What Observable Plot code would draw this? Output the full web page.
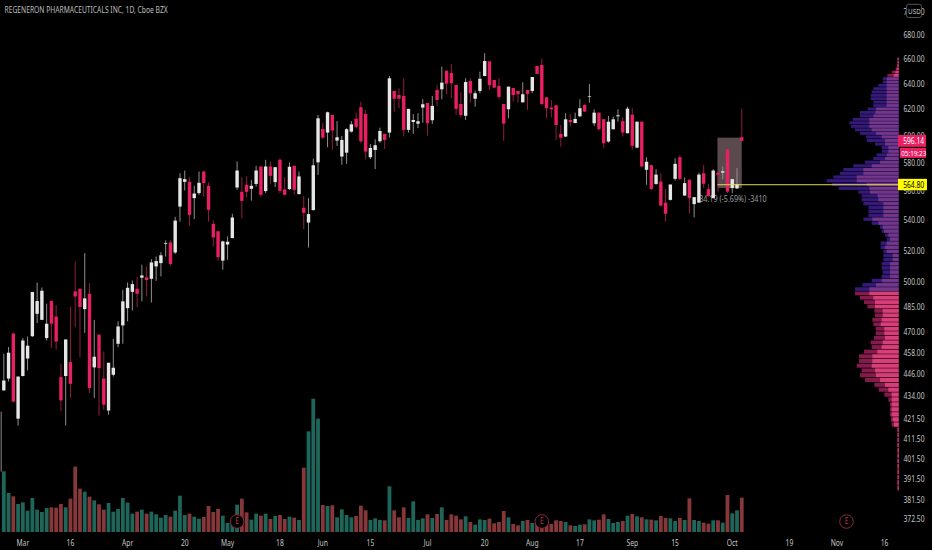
<!DOCTYPE html>
<html>
<head>
<meta charset="utf-8">
<script src="https://cdn.jsdelivr.net/npm/d3@7"></script>
<script src="https://cdn.jsdelivr.net/npm/@observablehq/plot@0.6"></script>
<style>
html,body{margin:0;padding:0;background:#000;overflow:hidden}
#chart{position:relative;width:932px;height:550px;background:#000}
#chart svg{position:absolute;left:0;top:0}
</style>
</head>
<body>
<div id="chart"></div>
<script>
const chartTitle = "REGENERON PHARMACEUTICALS INC, 1D, Cboe BZX";
const priceTicks = [700,680,660,640,620,600,580,560,540,520,500,485,470,458,446,434,421.5,411.5,401.5,391.5,381.5,372.5];
const timeTickBars = [5,15,27,39,48,59,68,78,90,102,112,122,133,142,154,166,176,186];
const timeTickLabels = ["Mar","16","Apr","20","May","18","Jun","15","Jul","20","Aug","17","Sep","15","Oct","19","Nov","16"];
const earningsBars = [50,114,178];

const open = [
437,443.5,469,421.9,444.9,454.7,467.5,480.7,477.1,466.4,
488.4,479.1,444.3,444.9,452.7,494.3,495.9,483.5,492.8,449.7,
468.4,443.5,426.2,445.6,463.1,473.8,484.1,494,495.9,502.8,
503,502.1,509.9,512,524.5,525.3,518.8,549.3,566.5,566.5,
555.1,558.6,573.8,563.7,537.6,532.7,513.6,524,528.2,562.5,
559.5,564.4,561.6,565,577.4,560,577.4,566.3,582.2,561.1,
561.4,577.9,557.9,548.5,538.5,546.9,580.4,605,602.3,615.6,
596.3,584.6,587.4,603,612.8,621.6,616.4,584.1,589.4,595.8,
601.3,602.3,634.3,631.2,630.4,604.3,610.3,609,621.3,624.9,
611.6,635.1,635.6,650.5,648.6,639,624.1,615,642.2,628.2,
634.3,646.2,658.1,643,638.3,624.1,620,636.7,634.3,625.4,
635.1,634.3,654.3,655.1,629.3,621.3,623.1,601.3,599.3,611.8,
609.5,614.6,623.3,629.6,609.3,617.4,612.4,595.6,604.8,614.6,
610.9,601.8,615.9,591.1,610.5,575,578.4,565,566.7,552,
553.9,568.6,584.1,556.9,567.9,551,552,572.6,561.4,555.1,
573,573,589.9,562.1,561.8,598.8];
const high = [
457.4,461.2,469.7,444.6,466.4,467.3,494,499.8,496.7,486.8,
488.8,486,451.8,465.6,484.8,513,496,518.4,499.4,477.1,
468.4,458.7,452.3,465.9,476.2,495.3,499.8,501,503.2,511,
509.9,514.5,516.2,519,526.7,526.7,542.3,572.6,574.5,569.8,
563.7,573.8,573.8,566,540,532.8,526.5,529.3,544.4,581,
569.8,570.3,567.9,577.9,577.4,582.2,581,576.9,583.4,569.8,
580.3,577.9,573.8,556.6,555.1,583.1,615.6,609.7,618.2,615.6,
610.9,599.8,605.6,610.9,617.4,625.9,619.5,593.8,597.3,606,
601.3,646.2,634.4,636.4,644.4,620.3,616.4,617,627.9,624.9,
630.4,639,653.8,650.5,655.9,639,633.3,644.4,644.4,634.5,
649.7,664.8,658.2,643,644.4,624.1,637.8,636.7,634.3,641.2,
635.2,645.4,654.3,660.6,629.4,627.2,623.1,608,617,616.4,
617.4,627.8,624.1,639.8,620,617.5,612.4,614.9,614.4,620,
613.9,622,620.8,610.6,610.6,584.1,578.5,575.5,572.6,561.4,
564.6,583.4,585.8,569.5,568.4,555.8,573,578.6,565,575.5,
573.2,577.4,590,568.5,576.2,620.3];
const low = [
436.9,441.9,430.5,418.3,444.6,448,467,475.2,477,465,
460.6,459.7,425.7,418.3,432.9,472.8,455.5,469.4,435.6,432.9,
423.5,426.6,424,444.6,461.2,463.1,476.2,482.7,484.8,488.2,
491.2,487.5,500.8,503.6,516.2,510.3,517.8,539.2,560.4,536.2,
540.8,557.4,556.2,539.2,522.7,513.6,507.8,514.1,528.1,560.9,
541.2,555.8,553.4,563.2,555.8,558.6,565.1,562.8,558.6,557.2,
560.9,557.4,557.7,534.1,522,546.7,571.4,597.3,591.4,589.4,
592.4,578.6,579.3,602.3,605.6,594.3,582.7,582.7,575.5,594.8,
590.1,598.5,618.2,620.8,599.3,602.3,601.3,605.6,609.7,600,
608.8,622.6,627.8,631.7,628.5,615.6,613.9,611.8,625.1,622,
632.5,646,635.1,636.8,627.8,596,613.1,625.9,625.1,625.2,
619.5,632.5,647.8,623.1,613.1,613.9,596.8,591.8,598.8,607.3,
609.3,613.9,618,625.1,607.3,603.8,590.6,594.8,604.6,610.5,
599.3,601.7,589.4,590.6,576.9,564.4,560.9,564.4,549.3,539.2,
553.4,567.4,567.9,556.7,544.4,542,551.9,562,556.2,555,
559.7,568.4,558.6,558.6,561.7,596.1];
const close = [
442.4,458,431,444.6,465,462,493.9,488.4,494.7,474.8,
474.8,464.4,431.6,465.6,440.6,491.2,484.8,490,438.3,455.7,
449.3,429.3,452.3,449.5,473.2,488.2,496.5,498.8,492.8,504.2,
501.3,512.4,513.3,517,525,511.4,539.8,569.1,568.4,543.7,
558.3,565.8,565.6,547.1,528.6,515.8,526,525.8,541.9,574.5,
553.2,559.5,563.7,574.5,557.4,577.4,570.7,576.9,560.2,557.4,
577.2,560.9,570.3,545,544.2,578.3,613.1,598.5,617.7,603.8,
598.8,596.8,604.8,608.5,606.6,595.8,588.2,590.9,592.9,603.5,
596.8,644.4,628.2,628.2,604.3,620.3,611.8,610.8,623.9,609.3,
622.6,627.2,640.9,640.1,640.4,620.3,615.6,641.4,632.5,632.5,
644,658.4,638.8,636.9,629.6,609,637.7,631,631.7,631.7,
632,645.4,647.9,624.1,620.8,620,608,598.5,612.3,610.3,
612.6,620.8,618.2,630.1,617.4,604.8,594.3,610.5,612.3,615.4,
602.3,620.5,592.4,610.5,577.4,580.8,561.4,571.6,550,544.4,
564.6,579.3,568.6,565.6,555.1,555.8,571.6,565.1,556.6,574.5,
571.6,574,559.7,568.4,564.9,596.14];
const volume = [
182,117,107,84,89,64,102,67,60,72,74,73,84,74,100,196,130,121,106,95,
83,67,87,61,69,102,88,55,61,67,55,61,53,43,51,46,64,109,51,55,
46,40,45,78,60,69,49,27,32,82,100,59,37,55,49,55,39,48,51,39,
46,43,36,193,302,400,340,81,78,80,44,68,51,44,48,79,65,36,41,36,
35,137,65,44,74,42,92,36,41,53,42,54,74,36,53,49,38,47,30,22,
38,36,40,26,30,63,44,24,20,33,36,27,28,36,21,24,35,33,30,20,
18,22,23,38,35,37,53,39,27,30,33,49,54,47,44,38,37,35,48,42,
41,33,42,36,101,36,33,28,25,35,35,28,111,56,65,103];

const earlierCandle = {bar:0.45, high:425.6, low:395};

const profileTopPrice = 660;
const profileStep = 2.65;
const profileTotal = [4,4,5,9,20,34,48,48,61,76,81,84,84,76,76,93,116,116,138,148,143,131,116,98,96,71,51,51,66,76,101,136,166,176,196,216,200,180,121,111,111,106,91,91,91,106,81,56,51,41,36,54,54,46,46,46,51,51,48,51,81,109,131,131,116,104,94,73,71,79,76,69,69,74,84,81,104,119,119,126,111,116,101,73,60,43,31,26,26,26,23,21,4,4,4,4,4,4,4,4,4,4,4,4];
const profileUp = [3,3,3,5,10,15,36,36,36,36,36,36,36,36,36,68,70,76,88,88,88,81,68,51,41,41,31,31,36,41,56,81,106,106,126,126,96,88,86,63,61,46,46,46,46,79,61,48,44,31,26,36,41,36,18,18,26,26,26,26,51,68,88,88,76,71,71,48,48,51,54,43,43,41,48,51,64,79,79,81,71,68,56,41,31,21,21,21,21,21,18,14,3,3,3,3,3,3,3,3,3,3,3,3];
const valueAreaHigh = 645.5;
const valueAreaLow = 494.4;

const lineBar = 151;
const linePrice = 564.8;
const rangeBox = {x1:151, x2:156.1, top:598.5, bottom:562.1};
const measureText = "-34.19 (-5.69%) -3410";
const tags = [
  {label:"596.14", top:600.5, bottom:591.7, x1:188.92, x2:194.8, tx:189.9, size:8, bg:"#e91e63", fg:"#ffffff"},
  {label:"05:19:23", top:590.9, bottom:583.6, x1:189.3, x2:194.8, tx:189.5, size:7.5, bg:"#e91e63", fg:"#ffffff"},
  {label:"564.80", top:568.6, bottom:560.6, x1:188.92, x2:195, tx:189.9, size:8, bg:"#ffff00", fg:"#000000"}
];

const FONT = "'Noto Sans', sans-serif";
const W = 932, H = 550;
const xDomain = [0.307, 188.92];
const yLog = {type:"log", domain:[710.3,358.3], range:[0,H], axis:null};
const base = {width:W, height:H, marginLeft:0, marginRight:34, marginTop:0, marginBottom:0,
  style:{background:"transparent", fontFamily:FONT, fontSize:"8px", color:"#c4c4c4"}};

const bars = d3.range(open.length).map(i => ({
  i:i+1, o:open[i], h:high[i], l:low[i], c:close[i], v:volume[i], up:close[i]>=open[i]
}));
const rows = profileTotal.map((t,k) => {
  const p = profileTopPrice - profileStep*k;
  return {p, total:t, up:profileUp[k], value:p<=valueAreaHigh && p>=valueAreaLow};
});

const volumePlot = Plot.plot({...base, marginBottom:18,
  x:{domain:xDomain, axis:null}, y:{domain:[0,1596], axis:null}, color:{type:"identity"},
  marks:[
    Plot.ruleX(bars,{x:"i", y1:0, y2:"v", strokeWidth:3.8, stroke:d=>d.up?"#1d6659":"#86373a"}),
    Plot.axisX(timeTickBars,{anchor:"bottom", label:null, tickSize:0, tickPadding:8,
      tickFormat:d=>timeTickLabels[timeTickBars.indexOf(d)]}),
    Plot.dot(earningsBars,{x:d=>d, y:33, r:6.8, stroke:"#8a2a42", strokeWidth:1, fill:"#000"}),
    Plot.text(earningsBars,{x:d=>d, y:33, text:()=>"E", fill:"#b8344f", fontSize:8})
  ]});

const profilePlot = Plot.plot({...base, marginRight:33.3,
  x:{domain:[0,2696], range:[898.7,0], axis:null}, y:yLog, color:{type:"identity"},
  marks:[
    Plot.rect(rows,{x1:0, x2:"total", y1:d=>d.p-profileStep*0.42, y2:d=>d.p+profileStep*0.42,
      fill:d=>d.value?"#351a7c":"#861a4c"}),
    Plot.rect(rows,{x1:0, x2:"up", y1:d=>d.p-profileStep*0.42, y2:d=>d.p+profileStep*0.42,
      fill:d=>d.value?"#72378a":"#d83f78"})
  ]});

const pricePlot = Plot.plot({...base,
  x:{domain:xDomain, axis:null}, y:yLog, color:{type:"identity"},
  marks:[
    Plot.text([measureText],{x:153.9, y:554.5, text:d=>d, fill:"#9a9a9a", fontSize:8.5}),
    Plot.rect([rangeBox],{x1:"x1", x2:"x2", y1:"bottom", y2:"top", fill:"#b4939c", fillOpacity:0.5}),
    Plot.ruleX([earlierCandle],{x:"bar", y1:"low", y2:"high", stroke:"#8a8a8a", strokeWidth:1}),
    Plot.ruleX(bars,{x:"i", y1:"l", y2:"h", strokeWidth:1, stroke:d=>d.up?"#8f8f8f":"#8f1d45"}),
    Plot.ruleX(bars,{x:"i", y1:"o", y2:"c", strokeWidth:3.4, stroke:d=>d.up?"#e6e6e6":"#e91e63"}),
    Plot.ruleY([linePrice],{x1:lineBar, x2:xDomain[1], stroke:"#dede4c", strokeWidth:1}),
    Plot.axisY(priceTicks,{anchor:"right", label:null, tickSize:0, tickPadding:5,
      tickFormat:d=>d.toFixed(2)}),
    Plot.rect(tags,{x1:"x1", x2:"x2", y1:"bottom", y2:"top", fill:"bg"}),
    Plot.text(tags,{x:"tx", y:d=>Math.sqrt(d.top*d.bottom), text:"label", fill:"fg", textAnchor:"start", fontSize:"size"}),
    Plot.text([chartTitle],{frameAnchor:"top-left", dx:4, dy:7, text:d=>d, fill:"#bdbdbd", fontSize:8}),
    Plot.rect(["USD"],{x1:190.7, x2:193.85, y1:706.5, y2:695, fill:"#000", stroke:"#555", rx:2}),
    Plot.text(["USD"],{x:192.27, y:700.6, text:d=>d, fill:"#c8c8c8", fontSize:7.5})
  ]});

const host = document.getElementById("chart");
host.append(volumePlot, profilePlot, pricePlot);

// the reference uses a condensed face: squeeze every label to the same width ratio
d3.select(host).selectAll("text").each(function() {
  const len = this.getComputedTextLength();
  if (len > 0) {
    this.setAttribute("textLength", (len*0.84).toFixed(1));
    this.setAttribute("lengthAdjust", "spacingAndGlyphs");
  }
});
</script>
</body>
</html>
